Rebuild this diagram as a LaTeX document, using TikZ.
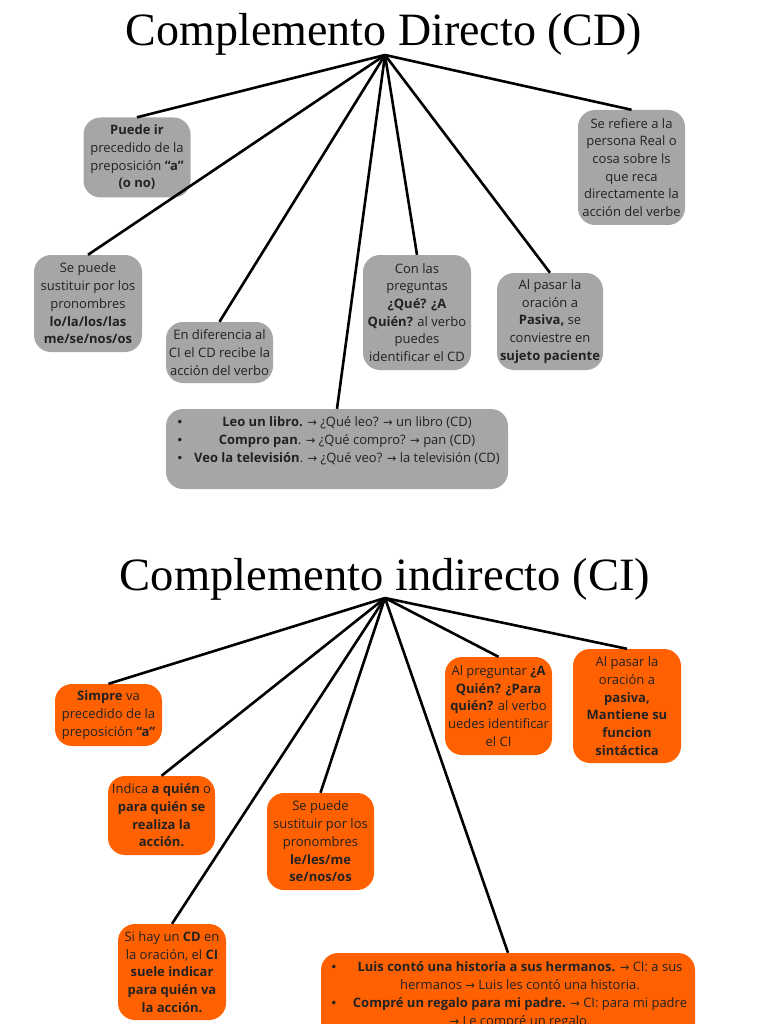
\documentclass[tikz,border=0pt]{standalone}
\usepackage{graphicx}
\usepackage{fontspec}
\setmainfont{Open Sans}
\newfontfamily\titlefont{Liberation Serif}
\newfontfamily\arrowfont{DejaVu Sans}
\newcommand{\myarr}{{\arrowfont\fontsize{11.5}{17.7}\selectfont →}}
\newcommand{\mybul}{{\arrowfont\fontsize{12}{17.7}\selectfont •}}
\definecolor{boxgray}{HTML}{A6A6A6}
\definecolor{boxorange}{HTML}{FF6100}
\definecolor{txt}{HTML}{222222}
\tikzset{
  card/.style={rounded corners=17pt, inner sep=0pt, align=center, text=txt,
    font=\fontsize{13}{17.7}\selectfont},
  gcard/.style={card, fill=boxgray},
  ocard/.style={card, fill=boxorange},
  link/.style={line width=2.6pt, black},
  heading/.style={inner sep=0pt, text=black}
}
\begin{document}
\begin{tikzpicture}[x=1pt,y=-1pt]
\useasboundingbox (0,0) rectangle (768,1024);
\clip (0,0) rectangle (768,1024);
\fill[white] (0,0) rectangle (768,1024);

% ---------- Complemento Directo ----------
\node[heading] (t1) at (384,34) {\resizebox*{516pt}{42pt}{\titlefont Complemento Directo (CD)}};
\coordinate (h1) at (385,55);

\node[gcard, minimum width=107pt, minimum height=80pt] (a) at (137,157.5)
  {\textbf{Puede ir}\\precedido de la\\preposición \textbf{“a”}\\\textbf{(o no)}};
\node[gcard, minimum width=107pt, minimum height=115pt] (b) at (631.5,167.5)
  {Se refiere a la\\persona Real o\\cosa sobre ls\\que reca\\directamente la\\acción del verbe};
\node[gcard, minimum width=108pt, minimum height=97pt] (c) at (88,303.5)
  {Se puede\\sustituir por los\\pronombres\\\textbf{lo/la/los/las}\\\textbf{me/se/nos/os}};
\node[gcard, minimum width=107pt, minimum height=61pt] (d) at (219.5,352.5)
  {En diferencia al\\CI el CD recibe la\\acción del verbo};
\node[gcard, minimum width=108pt, minimum height=115pt] (e) at (417,312.5)
  {Con las\\preguntas\\\textbf{¿Qué? ¿A}\\\textbf{Quién?} al verbo\\puedes\\identificar el CD};
\node[gcard, minimum width=106pt, minimum height=97pt] (f) at (550,321.5)
  {Al pasar la\\oración a\\\textbf{Pasiva,} se\\conviestre en\\\textbf{sujeto paciente}};
\node[gcard, minimum width=342pt, minimum height=80pt] (g) at (337,449)
  {\begin{minipage}[c][64pt][t]{334pt}
   \makebox[20pt][c]{\mybul}\makebox[314pt][c]{\textbf{Leo un libro.} \myarr{} ¿Qué leo? \myarr{} un libro (CD)}\par
   \makebox[20pt][c]{\mybul}\makebox[314pt][c]{\textbf{Compro pan}. \myarr{} ¿Qué compro? \myarr{} pan (CD)}\par
   \makebox[20pt][c]{\mybul}\makebox[314pt][c]{\textbf{Veo la televisión}. \myarr{} ¿Qué veo? \myarr{} la televisión (CD)}
   \end{minipage}};

\foreach \n in {a,b,c,d,e,f,g} \draw[link] (h1) -- (\n.north);

% ---------- Complemento indirecto ----------
\node[heading] (t2) at (385,579) {\resizebox*{530pt}{42pt}{\titlefont Complemento indirecto (CI)}};
\coordinate (h2) at (385,598);

\node[ocard, minimum width=107pt, minimum height=62pt] (hh) at (108.5,715)
  {\textbf{Simpre} va\\precedido de la\\preposición \textbf{“a”}};
\node[ocard, minimum width=107pt, minimum height=79pt] (ii) at (161.5,815.5)
  {Indica \textbf{a quién} o\\\textbf{para quién se}\\\textbf{realiza la}\\\textbf{acción.}};
\node[ocard, minimum width=107pt, minimum height=97pt] (jj) at (320.5,841.5)
  {Se puede\\sustituir por los\\pronombres\\\textbf{le/les/me}\\\textbf{se/nos/os}};
\node[ocard, minimum width=107pt, minimum height=98pt] (kk) at (498.5,706)
  {Al preguntar \textbf{¿A}\\\textbf{Quién? ¿Para}\\\textbf{quién?} al verbo\\uedes identificar\\el CI};
\node[ocard, minimum width=108pt, minimum height=114pt] (ll) at (627,706)
  {Al pasar la\\oración a\\\textbf{pasiva,}\\\textbf{Mantiene su}\\\textbf{funcion}\\\textbf{sintáctica}};
\node[ocard, minimum width=108pt, minimum height=96pt] (mm) at (172,972)
  {Si hay un \textbf{CD} en\\la oración, el \textbf{CI}\\\textbf{suele indicar}\\\textbf{para quién va}\\\textbf{la acción.}};
\node[ocard, minimum width=374pt, minimum height=100pt] (nn) at (508,1003)
  {\begin{minipage}[c][82pt][t]{374pt}
   \hspace*{4pt}\makebox[18pt][c]{\mybul}\makebox[354pt][c]{\textbf{Luis contó una historia a sus hermanos.} \myarr{} CI: a sus}\par
   \hspace*{22pt}\makebox[354pt][c]{hermanos \myarr{} Luis les contó una historia.}\par
   \hspace*{4pt}\makebox[18pt][c]{\mybul}\makebox[354pt][c]{\textbf{Compré un regalo para mi padre.} \myarr{} CI: para mi padre}\par
   \hspace*{22pt}\makebox[354pt][c]{\myarr{} Le compré un regalo.}
   \end{minipage}};

\foreach \n in {hh,ii,mm,jj,nn,kk,ll} \draw[link] (h2) -- (\n.north);
\end{tikzpicture}
\end{document}
